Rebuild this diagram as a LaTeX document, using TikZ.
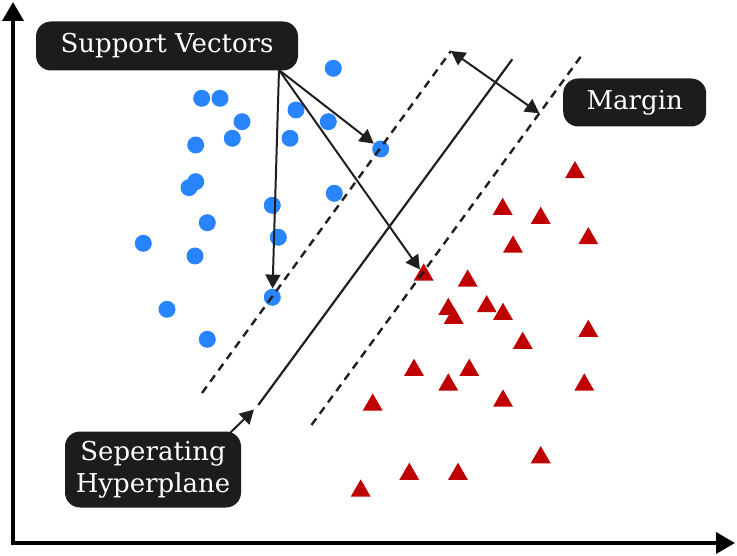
\documentclass[tikz,border=0pt]{standalone}
\usepackage{fontspec}
\setmainfont{DejaVu Serif}
\usetikzlibrary{arrows.meta,shapes.geometric}
\definecolor{dotblue}{RGB}{40,132,255}
\definecolor{trired}{RGB}{192,0,0}
\definecolor{boxfill}{RGB}{28,28,28}
\tikzset{
  dotnode/.style={circle,fill=dotblue,minimum size=17pt,inner sep=0pt},
  trinode/.style={regular polygon,regular polygon sides=3,fill=trired,minimum size=23pt,inner sep=0pt},
  lblbox/.style={fill=boxfill,rounded corners=15pt,text=white,align=center,inner sep=0pt,
    font=\fontsize{26}{32}\selectfont},
  pointer/.style={line width=2pt,draw=black!88,-{Triangle[length=14pt,width=15pt]}},
  marginline/.style={line width=2.4pt,draw=black!88,dash pattern=on 8pt off 6pt},
  hyper/.style={line width=2.2pt,draw=black!88},
  axis/.style={line width=3.8pt,{Triangle[length=19pt,width=21pt]}-{Triangle[length=19pt,width=21pt]}}
}
\begin{document}
\begin{tikzpicture}[x=1pt,y=-1pt]
\useasboundingbox (0,0) rectangle (737,556);
% axes
\coordinate (ytip) at (13,2);
\coordinate (orig) at (13,543);
\coordinate (xtip) at (735,543);
\draw[axis] (ytip) -- (orig) -- (xtip);
% blue dots
\foreach \x/\y [count=\i] in {201.7/98.3,220/98.3,333.3/68.3,296/110,242/121.7,328.3/121.7,232.3/138.3,290/138.3,195.7/145,195.7/181.7,189/187.7,334.3/193.3,272.3/205.3,207.3/222.7,278.3/237.3,143.3/243.3,195/256,167/309.3,207.3/339.3}
  \node[dotnode] (d\i) at (\x,\y) {};
\node[dotnode] (svA) at (380.7,149) {};
\node[dotnode] (svB) at (272.3,297.3) {};
% red triangles
\foreach \x/\y [count=\i] in {575/172.5,502.7/209.2,540.7/218.2,588.3/238.5,513/246.9,467.7/280.9,448.3/309.2,453.7/318.2,486.7/306.5,503/314.2,588.3/331.2,522.7/343.2,414/370.2,469.3/370.2,448.3/384.9,584.3/384.9,372.7/404.9,503/400.9,540.7/457.5,409.3/474.2,458/474.2,360.7/490.9}
  \node[trinode] (t\i) at (\x,\y) {};
\node[trinode] (svC) at (423.7,274.9) {};
% margin lines and hyperplane
\coordinate (m1a) at (202,393);
\coordinate (m1b) at (451,51);
\coordinate (m2a) at (311.5,425);
\coordinate (m2b) at (582.7,54);
\coordinate (ha) at (258.3,405);
\coordinate (hb) at (512.3,59.3);
\draw[marginline] (m1a) -- (m1b);
\draw[marginline] (m2a) -- (m2b);
\draw[hyper] (ha) -- (hb);
% margin arrow
\coordinate (mtip) at (539.3,113.3);
\draw[line width=2pt,draw=black!88,{Triangle[length=14pt,width=15pt]}-{Triangle[length=14pt,width=15pt]}] (m1b) -- (mtip);
% label boxes
\node[lblbox,minimum width=262pt,minimum height=49pt] (sv) at (167,46) {Support Vectors};
\node[lblbox,minimum width=143pt,minimum height=48pt] (mg) at (634.7,102.5) {Margin};
\node[lblbox,minimum width=176pt,minimum height=76pt] (sh) at (153,469.5) {Seperating\\Hyperplane};
% pointers
\coordinate (svo) at (279,70);
\draw[pointer] (svo) -- (svB);
\draw[pointer] (svo) -- (svA);
\draw[pointer] (svo) -- (svC);
\coordinate (sho) at (230,433);
\coordinate (htip) at (254,409.5);
\draw[pointer] (sho) -- (htip);
\end{tikzpicture}
\end{document}
